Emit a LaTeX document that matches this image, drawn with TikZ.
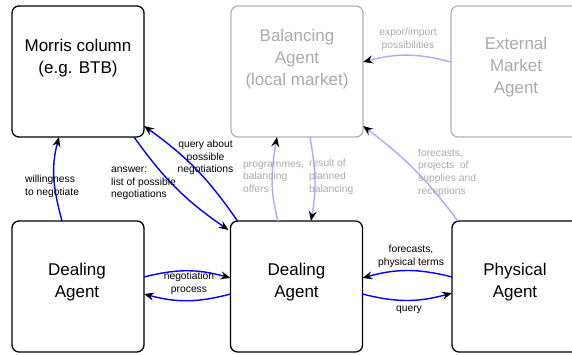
\documentclass[tikz,border=0pt]{standalone}
\usepackage{fontspec}
\setmainfont{Liberation Sans}
\usetikzlibrary{arrows.meta}
\definecolor{flow}{RGB}{0,0,255}
\definecolor{softflow}{RGB}{170,170,255}
\definecolor{dimgrey}{RGB}{180,180,180}
\definecolor{dimtext}{RGB}{170,170,170}
\begin{document}
\begin{tikzpicture}[x=1pt,y=-1pt,
  agent/.style={draw=black,line width=1.3pt,rounded corners=7pt,minimum width=132pt,minimum height=131pt,inner sep=0pt,outer sep=0pt},
  dimagent/.style={agent,draw=dimgrey},
  title/.style={align=center,inner sep=0pt,font=\fontsize{17}{22}\selectfont},
  dimtitle/.style={title,text=dimtext},
  note/.style={inner sep=0pt,font=\fontsize{10.3}{12.7}\selectfont},
  dimnote/.style={note,text=dimtext},
  tip/.style={-{Stealth[length=10pt,width=8pt,inset=3.5pt,black]}},
  main/.style={draw=flow,line width=1.4pt,tip},
  side/.style={draw=softflow,line width=1.4pt,tip}]
\useasboundingbox (0,0) rectangle (572,354);

% agents
\node[agent] (morris) at (78,71.5) {};
\node[dimagent] (bal) at (297,71.5) {};
\node[dimagent] (ext) at (517,71.5) {};
\node[agent] (dealL) at (78,286.5) {};
\node[agent] (dealC) at (296.5,286.5) {};
\node[agent] (phys) at (518,286.5) {};

\node[title] (morrisText) at (78,58) {Morris column\\(e.g. BTB)};
\node[dimtitle] (balText) at (297,59) {Balancing\\Agent\\(local market)};
\node[dimtitle] (extText) at (516,67.5) {External\\Market\\Agent};
\node[title] (dealLText) at (77,282.5) {Dealing\\Agent};
\node[title] (dealCText) at (296.5,282.5) {Dealing\\Agent};
\node[title] (physText) at (515,282.5) {Physical\\Agent};

% connectors towards the balancing agent (shifts are in page points, up is positive)
\draw[side] ([yshift=9.5pt]ext.west) to[bend right=15] ([yshift=9.5pt]bal.east);
\draw[side] ([xshift=-18.5pt]dealC.north) to[out=105,in=-100] ([xshift=-20pt]bal.south);
\draw[side] ([xshift=13pt]bal.south) to[out=-80,in=80] ([xshift=14.5pt]dealC.north);
\draw[side] ([xshift=6pt]phys.north west) to[bend right=8] ([yshift=11pt]bal.south east);

% connectors between the dealing agents and the Morris column
\draw[main] ([xshift=-16pt]dealL.north) to[out=105,in=-105] ([xshift=-19pt]morris.south);
\draw[main] ([xshift=-10pt]morris.south east) to[bend right=10] ([xshift=-2pt,yshift=-9pt]dealC.north west);
\draw[main] ([xshift=7pt]dealC.north west) to[bend right=10] ([yshift=11pt]morris.south east);

% negotiation between dealing agents
\draw[main] ([yshift=9.5pt]dealL.east) to[bend left=15] ([yshift=8.5pt]dealC.west);
\draw[main] ([yshift=-7.5pt]dealC.west) to[bend left=15] ([yshift=-7.5pt]dealL.east);

% dealing agent and physical agent
\draw[main] ([yshift=9.5pt]phys.west) to[bend right=15] ([yshift=8.5pt]dealC.east);
\draw[main] ([yshift=-7.5pt]dealC.east) to[bend right=15] ([yshift=-6.5pt]phys.west);

% labels
\node[note,align=left,anchor=west] (lblWilling) at (25,186) {willingness\\to negotiate};
\node[note,align=left,anchor=west] (lblAnswer) at (111,183.5) {answer:\\list of possible\\negotiations};
\node[note,align=center] (lblQuery) at (205.5,157.5) {query about\\possible\\negotiations};
\node[dimnote,align=left,anchor=west] (lblProg) at (243,177) {programmes,\\balancing\\offers};
\node[dimnote,align=left,anchor=west] (lblResult) at (309,177) {result of\\planned\\balancing};
\node[dimnote,align=left,anchor=west] (lblForecast) at (418,172.5) {forecasts,\\projects\ \ of\\supplies and\\receptions};
\node[dimnote,align=center] (lblExport) at (408,39.5) {expor/import\\possibilities};
\node[note,align=center] (lblNeg) at (189,283) {negotiation\\process};
\node[note,align=center] (lblPhys) at (411,256.5) {forecasts,\\physical terms};
\node[note] (lblPQuery) at (409,309.5) {query};
\end{tikzpicture}
\end{document}
